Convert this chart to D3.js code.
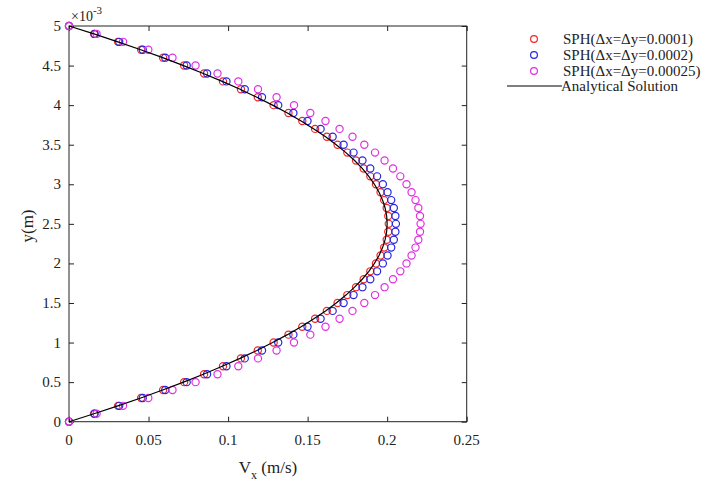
<!DOCTYPE html>
<html><head><meta charset="utf-8">
<script src="https://cdn.jsdelivr.net/npm/d3@7"></script>
<style>body{margin:0;background:#fff}svg{display:block}text{font-family:"Liberation Serif","Times New Roman",serif;fill:#222}</style>
</head><body><svg id="c" width="709" height="483"></svg>
<script>
// y positions (×10^-3 m)
const yPos = [0,0.1,0.2,0.3,0.4,0.5,0.6,0.7,0.8,0.9,1.0,1.1,1.2,1.3,1.4,1.5,1.6,1.7,1.8,1.9,2.0,2.1,2.2,2.3,2.4,2.5,2.6,2.7,2.8,2.9,3.0,3.1,3.2,3.3,3.4,3.5,3.6,3.7,3.8,3.9,4.0,4.1,4.2,4.3,4.4,4.5,4.6,4.7,4.8,4.9,5.0];
const analytical = [0,0.01568,0.03072,0.04512,0.05888,0.072,0.08448,0.09632,0.10752,0.11808,0.128,0.13728,0.14592,0.15392,0.16128,0.168,0.17408,0.17952,0.18432,0.18848,0.192,0.19488,0.19712,0.19872,0.19968,0.2,0.19968,0.19872,0.19712,0.19488,0.192,0.18848,0.18432,0.17952,0.17408,0.168,0.16128,0.15392,0.14592,0.13728,0.128,0.11808,0.10752,0.09632,0.08448,0.072,0.05888,0.04512,0.03072,0.01568,0];
const sph1 = [0,0.01576,0.03087,0.04535,0.05917,0.07236,0.0849,0.0968,0.10806,0.11867,0.12864,0.13797,0.14665,0.15469,0.16209,0.16884,0.17495,0.18042,0.18524,0.18942,0.19296,0.19585,0.19811,0.19971,0.20068,0.201,0.20068,0.19971,0.19811,0.19585,0.19296,0.18942,0.18524,0.18042,0.17495,0.16884,0.16209,0.15469,0.14665,0.13797,0.12864,0.11867,0.10806,0.0968,0.0849,0.07236,0.05917,0.04535,0.03087,0.01576,0];
const sph2 = [0,0.01611,0.03156,0.04636,0.0605,0.07398,0.0868,0.09897,0.11048,0.12133,0.13152,0.14106,0.14993,0.15815,0.16572,0.17262,0.17887,0.18446,0.18939,0.19366,0.19728,0.20024,0.20254,0.20418,0.20517,0.2055,0.20517,0.20418,0.20254,0.20024,0.19728,0.19366,0.18939,0.18446,0.17887,0.17262,0.16572,0.15815,0.14993,0.14106,0.13152,0.12133,0.11048,0.09897,0.0868,0.07398,0.0605,0.04636,0.03156,0.01611,0];
const sph3 = [0,0.01733,0.03395,0.04986,0.06506,0.07956,0.09335,0.10643,0.11881,0.13048,0.14144,0.15169,0.16124,0.17008,0.17821,0.18564,0.19236,0.19837,0.20367,0.20827,0.21216,0.21534,0.21782,0.21959,0.22065,0.221,0.22065,0.21959,0.21782,0.21534,0.21216,0.20827,0.20367,0.19837,0.19236,0.18564,0.17821,0.17008,0.16124,0.15169,0.14144,0.13048,0.11881,0.10643,0.09335,0.07956,0.06506,0.04986,0.03395,0.01733,0];
const seriesNames = ["SPH(\u0394x=\u0394y=0.0001)","SPH(\u0394x=\u0394y=0.0002)","SPH(\u0394x=\u0394y=0.00025)","Analytical Solution"];
const seriesColors = ["#f02828","#2626e0","#e030e0","#000"];
const xTicks = [0,0.05,0.1,0.15,0.2,0.25];
const xTickLabels = ["0","0.05","0.1","0.15","0.2","0.25"];
const yTicks = [0,0.5,1,1.5,2,2.5,3,3.5,4,4.5,5];
const yTickLabels = ["0","0.5","1","1.5","2","2.5","3","3.5","4","4.5","5"];

const svg = d3.select("#c");
const L=69,R=466.7,T=26,B=421.7;
const x = d3.scaleLinear().domain([0,0.25]).range([L,R]);
const y = d3.scaleLinear().domain([0,5]).range([B,T]);

// box
svg.append("rect").attr("x",L).attr("y",T).attr("width",R-L).attr("height",B-T).attr("fill","none").attr("stroke","#222").attr("stroke-width",1);

const fmtX = (d,i)=>xTickLabels[i], fmtY=(d,i)=>yTickLabels[i];
const ax = (g)=>{g.select(".domain").remove(); g.selectAll("line").attr("stroke","#222");};
svg.append("g").attr("transform",`translate(0,${B})`).call(d3.axisTop(x).tickValues(xTicks).tickSize(5).tickFormat(()=>"")).call(ax);
svg.append("g").attr("transform",`translate(0,${T})`).call(d3.axisBottom(x).tickValues(xTicks).tickSize(5).tickFormat(()=>"")).call(ax);
svg.append("g").attr("transform",`translate(${L},0)`).call(d3.axisRight(y).tickValues(yTicks).tickSize(5).tickFormat(()=>"")).call(ax);
svg.append("g").attr("transform",`translate(${R},0)`).call(d3.axisLeft(y).tickValues(yTicks).tickSize(5).tickFormat(()=>"")).call(ax);
// labels
svg.append("g").selectAll("text").data(xTicks).join("text")
  .attr("x",d=>x(d)).attr("y",B+23).attr("text-anchor","middle").style("font-size","15px").text(fmtX);
svg.append("g").selectAll("text").data(yTicks).join("text")
  .attr("x",L-8).attr("y",d=>y(d)+5).attr("text-anchor","end").style("font-size","15px").text(fmtY);

// exponent
const ex = svg.append("text").attr("x",71).attr("y",21).style("font-size","14px");
ex.append("tspan").text("\u00d710");
ex.append("tspan").attr("dy",-7).style("font-size","11px").text("-3");

// axis titles
const xt = svg.append("text").attr("x",268).attr("y",473).attr("text-anchor","middle").style("font-size","17px");
xt.append("tspan").text("V");
xt.append("tspan").attr("dy",6).style("font-size","12px").text("x");
xt.append("tspan").attr("dy",-6).text(" (m/s)");
svg.append("text").attr("transform","translate(27,226) rotate(-90)").attr("text-anchor","middle").attr("dy","0.35em").style("font-size","17px").text("y(m)");

// markers
const sers=[sph1,sph2,sph3];
sers.forEach((s,i)=>{
  svg.append("g").selectAll("circle").data(s).join("circle")
    .attr("cx",d=>x(d)).attr("cy",(d,j)=>y(yPos[j])).attr("r",3.6)
    .attr("fill","none").attr("stroke",seriesColors[i]).attr("stroke-width",1.2);
});
const line=d3.line().x(d=>x(d)).y((d,j)=>y(yPos[j]));
svg.append("path").datum(analytical).attr("d",line).attr("fill","none").attr("stroke","#000").attr("stroke-width",1.2);

// legend
const rowsY=[39,55,71,86];
sers.forEach((s,i)=>{
  svg.append("circle").attr("cx",534).attr("cy",rowsY[i]).attr("r",3.4).attr("fill","none").attr("stroke",seriesColors[i]).attr("stroke-width",1.2);
});
svg.append("line").attr("x1",507).attr("x2",562).attr("y1",rowsY[3]).attr("y2",rowsY[3]).attr("stroke","#000").attr("stroke-width",1);
seriesNames.forEach((n,i)=>{
  svg.append("text").attr("x",i<3?563:561).attr("y",rowsY[i]+5).style("font-size","15px").text(n);
});
</script></body></html>
